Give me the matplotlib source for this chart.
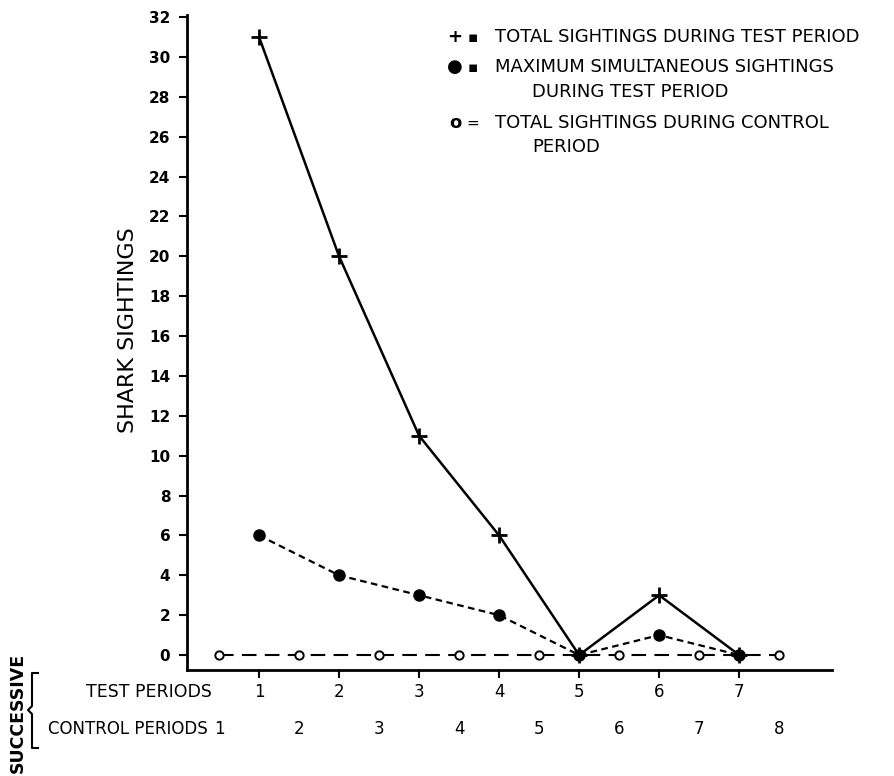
import numpy as np
import matplotlib.pyplot as plt
from matplotlib.lines import Line2D
from matplotlib.transforms import blended_transform_factory

# data
test_periods = [1, 2, 3, 4, 5, 6, 7]
total_test = [31, 20, 11, 6, 0, 3, 0]
max_simultaneous = [6, 4, 3, 2, 0, 1, 0]
control_periods = [1, 2, 3, 4, 5, 6, 7, 8]
total_control = [0, 0, 0, 0, 0, 0, 0, 0]
y_ticks = list(range(0, 33, 2))

legend_lines = [
    ("+", "\u25aa", "TOTAL SIGHTINGS DURING TEST PERIOD", None),
    ("\u25cf", "\u25aa", "MAXIMUM SIMULTANEOUS SIGHTINGS", "DURING TEST PERIOD"),
    ("o", "=", "TOTAL SIGHTINGS DURING CONTROL", "PERIOD"),
]

plt.rcParams["font.family"] = ["DejaVu Sans"]

fig = plt.figure(figsize=(8.95, 7.76), dpi=100)
W, H = 895, 776
ax = fig.add_axes([187 / W, 1 - 670 / H, (832 - 187) / W, (670 - 15) / H])

# control periods sit half way between the test periods
control_x = np.array(control_periods) - 0.5

ax.plot(control_x, total_control, color="black", lw=1.5, dashes=(7, 4),
        marker="o", ms=6, mfc="white", mec="black", mew=1.4, zorder=2)
ax.plot(test_periods, max_simultaneous, color="black", lw=1.6, dashes=(3, 2),
        marker="o", ms=8, mfc="black", mec="black", zorder=3)
ax.plot(test_periods, total_test, color="black", lw=1.8,
        marker="+", ms=11, mew=2.0, zorder=4)

ax.set_xlim(0.1, 8.16)
ax.set_ylim(-0.75, 32.1)
ax.set_yticks(y_ticks)
ax.set_yticklabels([str(v) for v in y_ticks], fontsize=11, fontweight="bold")
ax.set_xticks(test_periods)
ax.set_xticklabels([])
ax.tick_params(axis="both", direction="out", length=6, width=1.5, pad=6)
for side in ["top", "right"]:
    ax.spines[side].set_visible(False)
for side in ["left", "bottom"]:
    ax.spines[side].set_linewidth(2)

fig.text(128 / W, 1 - 330 / H, "SHARK SIGHTINGS", rotation=90,
         fontsize=16, ha="center", va="center")

# period rows under the axis
tr = blended_transform_factory(ax.transData, fig.transFigure)
row_test = 1 - 692 / H
row_ctrl = 1 - 729 / H
for t in test_periods:
    ax.text(t, row_test, str(t), transform=tr, fontsize=12,
            ha="center", va="center")
for c, cx in zip(control_periods, control_x):
    ax.text(cx, row_ctrl, str(c), transform=tr, fontsize=12,
            ha="center", va="center")
fig.text(212 / W, row_test, "TEST PERIODS", fontsize=12.5,
         ha="right", va="center")
fig.text(208 / W, row_ctrl, "CONTROL PERIODS", fontsize=12,
         ha="right", va="center")
fig.text(18 / W, 1 - 713 / H, "SUCCESSIVE", rotation=90, fontsize=12.5,
         ha="center", va="center", fontweight="bold")

# bracket grouping the two rows
bx = [38, 32, 32, 28, 32, 32, 38]
by = [673, 673, 706, 710, 714, 748, 748]
fig.add_artist(Line2D([x / W for x in bx], [1 - y / H for y in by],
                      color="black", lw=1.5))

# legend written out as text, as in the original
legend_y = [(37, None), (67, 92), (123, 147)]
for (sym, sep, line1, line2), (y1, y2) in zip(legend_lines, legend_y):
    fig.text(455 / W, 1 - y1 / H, sym, fontsize=13, ha="center", va="center",
             fontweight="bold")
    fig.text(473 / W, 1 - y1 / H, sep, fontsize=11, ha="center", va="center")
    fig.text(495 / W, 1 - y1 / H, line1, fontsize=13, va="center")
    if line2:
        fig.text(532 / W, 1 - y2 / H, line2, fontsize=13, va="center")

fig.savefig("out.png", dpi=100)
